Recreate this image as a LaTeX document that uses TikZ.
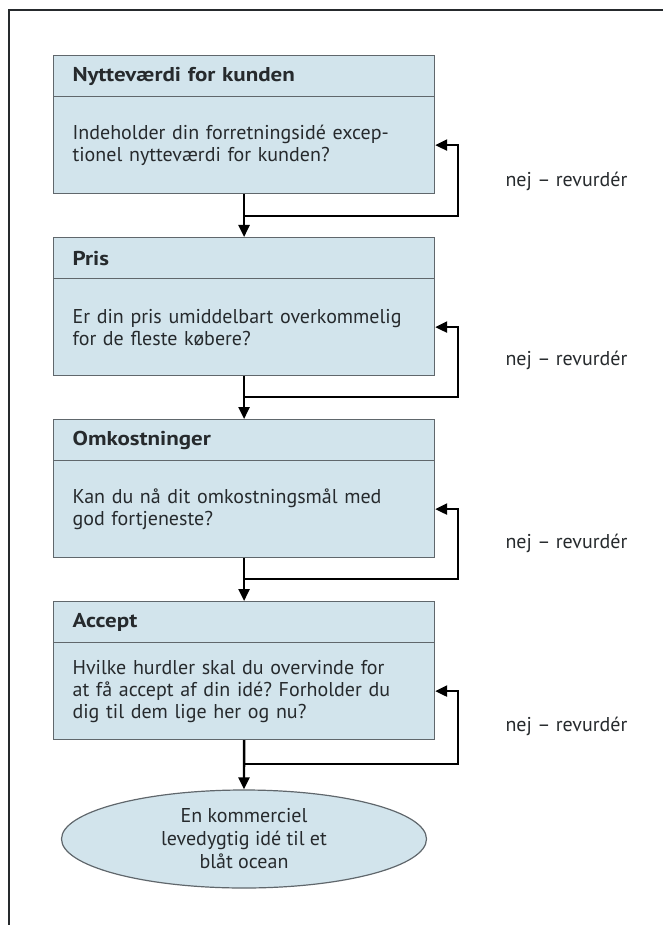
\documentclass[tikz,border=0pt]{standalone}
\usepackage{fontspec}
\setmainfont{PT Sans}[BoldFeatures={FakeStretch=1.15}]
\usetikzlibrary{arrows.meta, shapes.geometric}
\definecolor{boxfill}{HTML}{D2E4EC}
\definecolor{boxline}{HTML}{60676C}
\definecolor{ink}{HTML}{262A2D}
\frenchspacing

\begin{document}
\begin{tikzpicture}[x=1pt,y=-1pt,
    hd/.style={draw=boxline,fill=boxfill,line width=1.2pt,anchor=north west,
        minimum width=381pt,minimum height=41pt,text width=343pt,inner xsep=19pt,
        align=left,text=ink,font=\fontsize{20}{22}\selectfont\bfseries},
    bd/.style={hd,minimum height=97pt,font=\fontsize{20}{22}\selectfont},
    goal/.style={ellipse,draw=boxline,fill=boxfill,line width=1.2pt,inner sep=0pt,
        minimum width=365pt,minimum height=98pt,align=center,text=ink,
        font=\fontsize{20}{23}\selectfont},
    nej/.style={anchor=west,text=ink,font=\fontsize{20}{22}\selectfont},
    flow/.style={line width=2.4pt,-{Triangle[length=12pt,width=11pt]}}]
            \useasboundingbox (0,0) rectangle (663,925);
            \draw[line width=1.3pt,ink] (9,925) -- (9,10) -- (663,10);

            \draw (53,55) node[hd](h1){Nytteværdi for kunden};
            \draw (53,96) node[bd](b1){Indeholder din forretningsidé excep-\\tionel nytteværdi for kunden?};
            \draw (53,237) node[hd](h2){Pris};
            \draw (53,278) node[bd](b2){Er din pris umiddelbart overkommelig\\for de fleste købere?};
            \draw (53,419) node[hd](h3){Omkostninger};
            \draw (53,460) node[bd](b3){Kan du nå dit omkostningsmål med\\god fortjeneste?};
            \draw (53,601) node[hd](h4){Accept};
            \draw (53,642) node[bd](b4){Hvilke hurdler skal du overvinde for\\at få accept af din idé? Forholder du\\dig til dem lige her og nu?};
            \draw (244,839) node[goal](g){En kommerciel\\levedygtig idé til et\\blåt ocean};

            \draw (502,181) node[nej](n1){nej – revurdér};
            \draw (502,360) node[nej](n2){nej – revurdér};
            \draw (502,543) node[nej](n3){nej – revurdér};
            \draw (502,726) node[nej](n4){nej – revurdér};

            \coordinate (l1) at (458,216);
            \coordinate (l2) at (458,397);
            \coordinate (l3) at (458,579);
            \coordinate (l4) at (458,764);

            \begin{scope}[flow]
                \draw (b1.south) -- (h2.north);
                \draw (b2.south) -- (h3.north);
                \draw (b3.south) -- (h4.north);
                \draw (b4.south) -- (g.north);
            \end{scope}

            \begin{scope}[flow]
                \draw (b1.south |- l1) -- (l1) |- (b1.east);
                \draw (b2.south |- l2) -- (l2) |- (b2.east);
                \draw (b3.south |- l3) -- (l3) |- (b3.east);
                \draw (b4.south |- l4) -- (l4) |- (b4.east);
            \end{scope}
        \end{tikzpicture}
\end{document}
